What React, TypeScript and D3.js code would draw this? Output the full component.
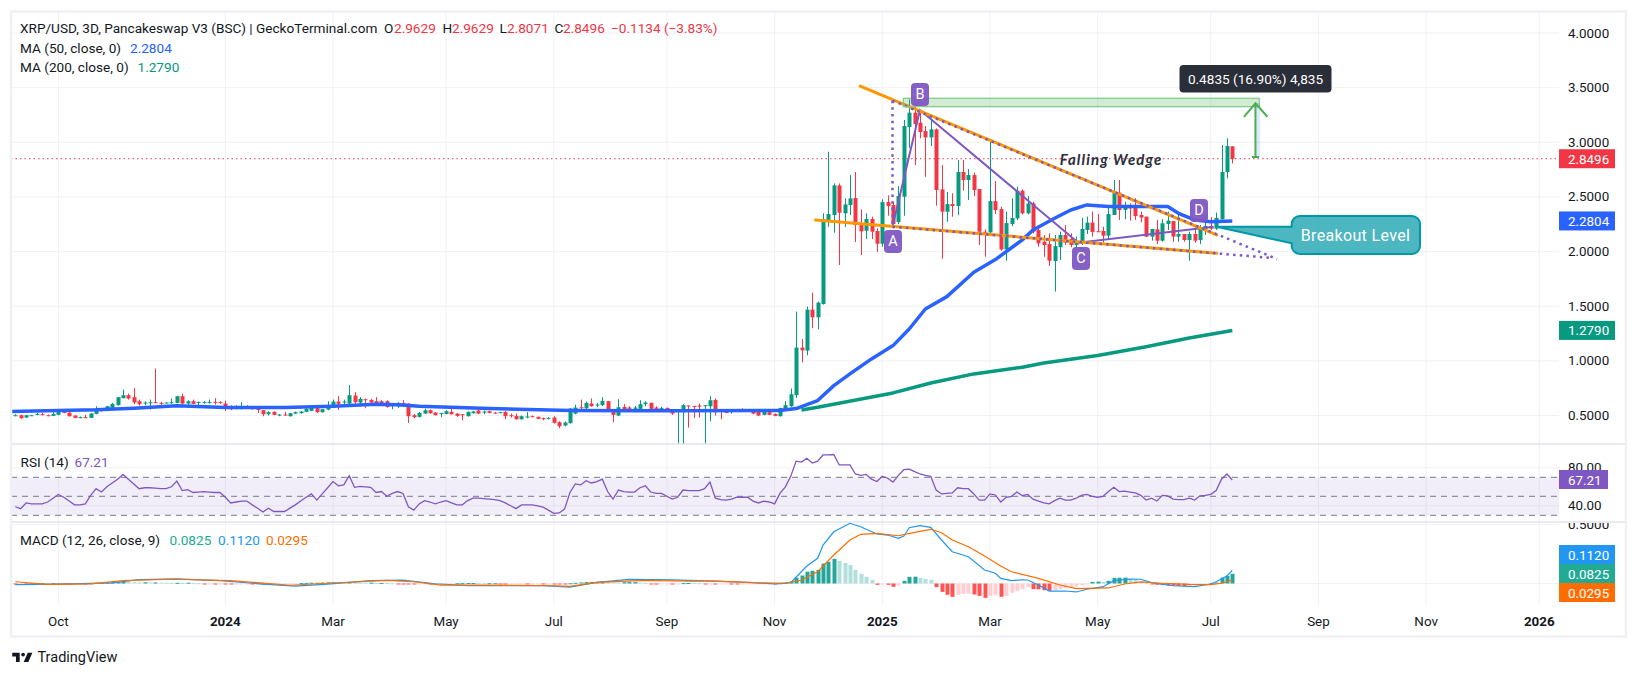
import React from "react";
import * as d3 from "d3";

// candle values, one per 3D bar
const opens = [
  .497,.503,.482,.5,.506,.512,.503,.497,.506,.537,
  .527,.5,.479,.485,.479,.515,.561,.543,.57,.595,
  .659,.686,.668,.631,.61,.616,.622,.616,.613,.616,
  .616,.677,.61,.631,.619,.619,.619,.625,.622,.61,
  .585,.573,.573,.579,.579,.561,.549,.512,.534,.503,
  .509,.494,.518,.521,.534,.543,.567,.531,.555,.573,
  .628,.622,.61,.683,.619,.649,.643,.631,.631,.631,
  .585,.585,.616,.61,.503,.488,.518,.549,.527,.518,
  .515,.534,.518,.512,.494,.521,.546,.527,.54,.527,
  .524,.534,.503,.497,.466,.485,.494,.488,.476,.473,
  .482,.439,.409,.43,.518,.576,.567,.61,.595,.595,
  .631,.558,.5,.579,.573,.561,.561,.604,.616,.573,
  .561,.57,.549,.537,.531,.592,.588,.592,.588,.585,
  .643,.546,.549,.534,.537,.558,.54,.549,.543,.506,
  .531,.515,.494,.549,.585,.686,1.122,1.094,1.469,1.399,
  1.521,2.288,2.334,2.606,2.35,2.426,2.49,2.25,2.191,2.298,
  2.188,2.072,2.453,2.426,2.27,2.502,3.139,3.271,3.179,3.103,
  3.045,3.118,2.569,2.365,2.435,2.417,2.728,2.655,2.7,2.572,
  2.182,2.176,2.462,2.389,2.02,2.252,2.304,2.557,2.35,2.441,
  2.197,2.09,2.069,1.914,2.04,2.152,2.116,2.06,2.076,2.198,
  2.265,2.186,2.189,2.146,2.335,2.54,2.381,2.417,2.402,2.335,
  2.32,2.137,2.204,2.1,2.253,2.28,2.137,2.161,2.106,2.161,
  2.106,2.204,2.235,2.21,2.295,2.728,2.9629,
];
const closes = [
  .503,.476,.503,.503,.515,.506,.497,.515,.543,.524,
  .494,.479,.485,.479,.518,.564,.54,.585,.607,.668,
  .686,.656,.619,.604,.619,.622,.616,.61,.619,.622,
  .677,.61,.631,.607,.625,.625,.625,.619,.616,.579,
  .558,.582,.582,.585,.558,.552,.512,.531,.506,.509,
  .503,.521,.531,.537,.561,.57,.531,.558,.588,.628,
  .607,.628,.686,.622,.653,.643,.619,.61,.613,.579,
  .595,.616,.607,.494,.485,.524,.549,.521,.503,.524,
  .54,.512,.497,.506,.534,.537,.518,.537,.524,.518,
  .531,.494,.497,.466,.494,.491,.488,.47,.47,.479,
  .433,.402,.436,.564,.573,.57,.616,.585,.601,.634,
  .549,.506,.576,.549,.561,.573,.604,.619,.561,.561,
  .57,.537,.518,.543,.595,.585,.582,.582,.595,.64,
  .531,.54,.524,.552,.549,.54,.552,.518,.5,.537,
  .506,.497,.57,.595,.695,1.122,1.097,1.469,1.399,1.533,
  2.293,2.343,2.606,2.356,2.432,2.487,2.243,2.185,2.298,2.182,
  2.072,2.453,2.417,2.252,2.508,3.149,3.271,3.167,3.094,3.045,
  3.118,2.563,2.365,2.435,2.417,2.728,2.655,2.7,2.563,2.182,
  2.176,2.462,2.38,2.02,2.261,2.307,2.557,2.35,2.441,2.182,
  2.075,2.06,1.917,2.05,2.152,2.082,2.06,2.09,2.207,2.265,
  2.18,2.18,2.146,2.344,2.54,2.381,2.417,2.396,2.326,2.311,
  2.137,2.207,2.1,2.259,2.283,2.137,2.161,2.106,2.161,2.1,
  2.207,2.235,2.21,2.308,2.728,2.966,2.8496,
];
const highs = [
  .512,.509,.506,.506,.524,.524,.509,.543,.549,.54,
  .531,.503,.491,.506,.524,.585,.564,.588,.616,.671,
  .738,.701,.75,.646,.631,.646,.93,.625,.622,.656,
  .68,.701,.64,.646,.628,.631,.646,.659,.631,.637,
  .595,.595,.622,.595,.585,.561,.549,.54,.537,.512,
  .534,.524,.537,.54,.582,.573,.57,.561,.631,.646,
  .677,.646,.778,.714,.668,.656,.653,.668,.64,.64,
  .61,.622,.64,.61,.515,.534,.564,.555,.531,.524,
  .549,.579,.521,.512,.537,.54,.555,.546,.546,.531,
  .534,.54,.518,.518,.5,.531,.5,.491,.482,.485,
  .494,.448,.445,.567,.598,.646,.628,.656,.616,.668,
  .634,.558,.649,.604,.585,.588,.64,.631,.619,.585,
  .579,.573,.555,.543,.604,.592,.588,.61,.595,.677,
  .656,.549,.552,.555,.552,.567,.555,.552,.546,.54,
  .534,.518,.57,.631,.747,1.451,1.201,1.497,1.625,1.543,
  2.351,2.914,2.624,2.624,2.487,2.7,2.728,2.386,2.35,2.319,
  2.212,2.478,2.514,2.456,2.6,3.204,3.393,3.362,3.295,3.149,
  3.219,3.127,2.792,2.545,2.533,2.838,2.838,2.755,2.722,2.572,
  2.203,3.005,2.645,2.41,2.365,2.487,2.593,2.569,2.508,2.456,
  2.243,2.151,2.167,2.152,2.183,2.244,2.167,2.137,2.31,2.32,
  2.366,2.344,2.228,2.405,2.655,2.655,2.457,2.442,2.488,2.366,
  2.32,2.207,2.29,2.296,2.366,2.28,2.35,2.161,2.183,2.244,
  2.244,2.335,2.314,2.357,2.975,3.036,2.9629,
];
const lows = [
  .494,.47,.479,.497,.503,.503,.494,.494,.503,.521,
  .491,.476,.476,.476,.476,.512,.537,.54,.567,.592,
  .656,.646,.604,.592,.595,.555,.613,.598,.61,.607,
  .613,.601,.598,.604,.588,.61,.61,.601,.61,.543,
  .549,.555,.555,.567,.555,.524,.494,.5,.503,.494,
  .5,.491,.515,.518,.531,.54,.524,.527,.549,.57,
  .552,.604,.604,.592,.604,.567,.598,.598,.607,.573,
  .558,.57,.595,.433,.476,.482,.515,.518,.5,.485,
  .512,.509,.488,.457,.491,.518,.512,.512,.521,.515,
  .521,.466,.482,.463,.463,.476,.485,.466,.457,.466,
  .427,.384,.402,.427,.512,.54,.561,.582,.576,.588,
  .54,.439,.494,.537,.543,.543,.558,.585,.558,.549,
  .549,.534,.506,.2,.2,.39,.476,.482,.2,.448,
  .5,.466,.521,.518,.534,.537,.537,.512,.494,.503,
  .503,.494,.491,.546,.579,.661,.987,1.051,1.298,1.289,
  1.515,2.227,2.173,1.877,2.227,2.334,2.087,1.968,2.115,2.115,
  1.999,2.045,2.328,2.212,2.252,2.328,2.95,2.792,3.036,2.685,
  2.966,2.42,1.935,2.273,2.319,2.334,2.557,2.472,2.508,2.06,
  1.953,2.167,2.343,2.008,1.917,2.234,2.288,2.34,2.34,2.167,
  2.045,1.953,1.868,1.634,1.924,2.06,2.04,2.04,2.06,2.161,
  2.137,2.18,2.082,2.106,2.335,2.29,2.296,2.283,2.29,2.268,
  2.131,2.1,2.07,2.09,2.198,2.09,2.09,2.09,1.917,2.082,
  2.07,2.152,2.198,2.198,2.295,2.67,2.8071,
];

// moving averages, read at the points where the line bends
const ma50Index = [-1,8,15,22,30,39,50,59,67,71,75,88,103,115,123,142,145,149,152,155,159,163,166,169,173,178,182,187,189,193,196,199,203,214,216,219,222,226];
const ma50Values = [.536,.546,.552,.567,.59,.573,.573,.585,.604,.598,.585,.564,.546,.543,.543,.546,.564,.637,.774,.881,1.018,1.14,1.292,1.475,1.588,1.811,1.927,2.107,2.198,2.305,2.381,2.427,2.412,2.412,2.35,2.29,2.274,2.2804];
const ma200Index = [146,149,163,170,178,187,191,201,210,218,226];
const ma200Values = [.551,.576,.707,.798,.881,.942,.98,1.05,1.13,1.21,1.279];

// RSI per bar
const rsiValues = [
  39,37,43,42,42,42,44,48,52,49,
  45,41,41,42,51,58,54.5,60,64,68,
  73,68,63,58,59,59,58.5,58,58,60,
  66,56,57,54,54.5,55,54.5,54,54,49,
  43,44,45,45,41,37.5,33.5,37.5,34,34,
  34,37.5,41,45,49,52.5,46,52.5,59,65.5,
  61,62,71.7,59.5,60.5,60,59.5,54,55,50,
  53,55,53,39,35.5,42,45.5,44,42,44,
  45.5,43,41,41,45.5,48,48,47.5,47,46.5,
  45.5,43,40,37,41,41,41,40,38.5,35.5,
  32,32.5,36.5,54,63,62,66.4,64,65.5,68,
  55,47,56.6,55,54.5,54.5,59,61,54.5,53,
  53,50,47,49,56.6,56,56,56,58,65,
  48,46.5,46,47,49,49,49,45,43,45,
  44,42,53,60,71,87,86,90,85,87,
  93.5,93.7,94,83,83,83,73.5,72,73,68,
  65.5,71,69,65,72,78,78.5,76,73.5,72,
  71,56.6,52.5,53,53.5,59,58,58,52.5,46,
  46,52.5,51.4,44,49,50,54.5,50.6,52,47,
  45,43,42,45.5,48,46,46,48,51,52,
  50,49,50,55,59.5,55,55.5,54.5,53.5,51,
  46,48,45,51,50.5,47,46.5,46.5,48,46,
  50.5,51,52,56,68,73.5,67.21,
];

// MACD and signal lines at their bends
const macdIndex = [0,8,18,23,30,38,46,52,58,66,72,78,84,98,103,108,114,122,130,137,141,144,147,149,150,152,155,157,158,160,162,164,165,166,168,170,172,174,177,180,182,183,185,187,188,190,192,195,197,199,202,204,207,209,211,215,219,222,223,225,226];
const macdValues = [-.01,-.006,.005,.033,.04,.025,-.005,-.022,-.005,.025,.028,-.002,-.018,-.018,-.03,.01,.035,.03,.02,.007,-.004,.007,.149,.214,.327,.44,.512,.483,.461,.421,.412,.384,.404,.474,.492,.478,.37,.27,.228,.115,.087,.044,.024,.032,.03,-.013,-.064,-.064,-.072,-.049,-.027,.024,.038,.036,.007,-.019,-.027,-.004,.015,.064,.112];
const signalIndex = [0,6,14,20,29,40,45,51,58,69,74,79,86,100,103,108,117,125,130,137,143,146,149,152,155,157,160,164,167,170,172,174,177,180,183,185,190,194,197,203,206,209,213,218,222,224,226];
const signalValues = [.015,-.007,-.004,.024,.036,.024,.007,-.015,.002,.027,.015,-.013,-.013,-.019,-.025,.01,.027,.02,.02,.007,.002,.03,.1,.242,.37,.418,.427,.406,.435,.461,.432,.37,.313,.234,.149,.1,.044,-.013,-.044,-.038,-.004,.013,.002,-.007,-.01,.002,.0295];

// MACD histogram per bar
const histValues = [
  -.003,-.002,-.003,.002,.002,.003,.002,.002,-.001,-.002,
  -.003,-.003,-.002,-.003,.002,.006,.006,.008,.01,.012,
  .014,.013,.011,.01,.01,.009,.009,.008,.007,.006,
  .006,.005,.007,.003,.002,-.002,-.002,-.003,-.003,-.004,
  -.006,-.006,-.004,-.004,-.006,-.006,-.008,-.008,-.006,-.005,
  -.004,-.003,-.002,.003,.005,.007,.007,.008,.01,.011,
  .009,.008,.01,.009,.008,.007,.007,.005,.005,.004,
  .002,-.002,-.004,-.005,-.006,-.005,-.004,-.005,-.004,-.003,
  -.002,-.002,.002,.003,.004,.004,.003,.002,.002,.002,
  -.001,-.002,-.002,-.002,-.002,-.003,-.002,-.002,-.003,-.002,
  -.003,-.004,-.006,.002,.006,.009,.012,.012,.014,.015,
  .012,.01,.008,.01,.012,.012,.008,.006,-.003,-.004,
  -.004,-.002,-.003,-.003,.003,.004,.003,.002,-.002,-.002,
  -.003,-.003,-.002,-.003,-.004,-.003,-.003,-.002,-.002,-.002,
  -.002,-.003,.002,.004,.017,.05,.068,.1,.108,.116,
  .17,.184,.21,.192,.175,.158,.116,.082,.057,.031,
  -.011,-.006,-.011,-.028,-.017,.023,.057,.058,.048,.04,
  .031,-.031,-.071,-.096,-.113,-.096,-.088,-.087,-.093,-.105,
  -.122,-.105,-.096,-.113,-.105,-.079,-.062,-.048,-.031,-.048,
  -.049,-.057,-.062,-.057,-.048,-.04,-.034,-.025,-.017,-.008,
  .014,.016,.013,.023,.048,.049,.05,.04,.031,.014,
  .008,-.006,-.011,-.014,-.017,-.02,-.021,-.022,-.02,-.017,
  -.014,-.011,.003,.008,.05,.065,.0825,
];

const timeLabels = ["Oct","2024","Mar","May","Jul","Sep","Nov","2025","Mar","May","Jul","Sep","Nov","2026"];
const timeIndex = [8,39,59,80,100,121,141,161,181,201,222,242,262,283];
const priceTicks = [4,3.5,3,2.5,2,1.5,1,.5];
const rsiTicks = [80,40];
const rsiLevels = [70,50,30];
const macdTicks = [.5];

const lastPrice = 2.8496;
const wedgeUpper: [number, number][] = [[156.9,3.515],[223.1,2.152]];
const wedgeLower: [number, number][] = [[148.6,2.289],[223.1,1.984]];
const dotUpper: [number, number][] = [[162.9,3.381],[234.3,1.932]];
const dotLower: [number, number][] = [[162.9,2.228],[233.6,1.941]];
const dotVertical: [number, number][] = [[162.9,3.381],[162.9,2.228]];
const abcd: [number, number][] = [[162.9,2.228],[168,3.296],[197.4,2.081],[222.5,2.228]];
const targetBox = { i0: 164.9, i1: 231, top: 3.403, bottom: 3.326 };
const measure = { i: 230.3, from: 2.866, to: 3.357 };

const GREEN = "#089981";
const RED = "#f23645";
const BLUE = "#2962ff";
const PURPLE = "#7e57c2";
const ORANGE = "#ff9800";
const TEXT = "#131722";
const GRID = "#f0f1f4";
const FONT = "Roboto, sans-serif";

const W = 1637;
const H = 676;
const left = 11;
const plotRight = 1559;
const mainBottom = 444;
const rsiBottom = 522;
const macdBottom = 605;

const x = d3.scaleLinear().domain([0, 226]).range([15.3, 1232.3]);
const y = d3.scaleLinear().domain([3, 2]).range([142.3, 251.6]);
const yRsi = d3.scaleLinear().domain([70, 30]).range([477.3, 515.3]);
const yMacd = d3.scaleLinear().domain([0, 0.5]).range([583.5, 524.7]);

const pricePath = d3.line<[number, number]>().x((d) => x(d[0])).y((d) => y(d[1]));
const zip = (a: number[], b: number[]) => a.map((v, i) => [v, b[i]] as [number, number]);

const macdLine = d3.line<[number, number]>().x((d) => x(d[0])).y((d) => yMacd(d[1]));
const rsiLine = d3.line<number>().x((_, i) => x(i)).y((d) => yRsi(d));

const histColor = (i: number) => {
  const v = histValues[i];
  const prev = i > 0 ? histValues[i - 1] : 0;
  if (v >= 0) return v >= prev ? "#26a69a" : "#b2dfdb";
  return v < prev ? "#ff5252" : "#ffcdd2";
};

const Legend = ({ tx, ty, fill = TEXT, children }: any) => (
  <text x={tx} y={ty} fontSize={13.6} fontFamily={FONT} fill={fill} dominantBaseline="central">
    {children}
  </text>
);

const AxisBox = ({ cy, fill, label, w = 56 }: any) => (
  <g>
    <rect x={plotRight} y={cy - 9.5} width={w} height={19} fill={fill} />
    <text x={plotRight + 9} y={cy + 0.5} fontSize={13.4} fontFamily={FONT} fill="#fff" dominantBaseline="central">
      {label}
    </text>
  </g>
);

const Badge = ({ cx, top, label }: any) => (
  <g>
    <rect x={cx - 9} y={top} width={18} height={23} rx={4} fill={PURPLE} fillOpacity={0.95} />
    <text x={cx} y={top + 11.5} textAnchor="middle" dominantBaseline="central" fontSize={14.5} fontFamily={FONT} fill="#fff">
      {label}
    </text>
  </g>
);

export default function App() {
  const tipX = x(223.1);
  const tipY = y(2.228);
  const ax = x(measure.i);
  const ayTop = y(measure.to);
  const ayBottom = y(measure.from);

  return (
    <svg width={W} height={H} viewBox={`0 0 ${W} ${H}`} style={{ position: "fixed", left: 0, top: 0, background: "#fff" }}>
      <defs>
        <clipPath id="mainClip"><rect x={left} y={12} width={plotRight - left} height={mainBottom - 12} /></clipPath>
        <clipPath id="lowerClip"><rect x={left} y={mainBottom} width={plotRight - left} height={macdBottom - mainBottom} /></clipPath>
        <clipPath id="macdAxisClip"><rect x={plotRight} y={rsiBottom + 1} width={70} height={40} /></clipPath>
      </defs>

      {/* grid */}
      {timeIndex.map((t) => (
        <line key={t} x1={x(t)} x2={x(t)} y1={12} y2={macdBottom} stroke={GRID} strokeWidth={1} />
      ))}
      {priceTicks.map((p) => (
        <line key={p} x1={left} x2={plotRight} y1={y(p)} y2={y(p)} stroke={GRID} />
      ))}
      {rsiTicks.map((r) => (
        <line key={r} x1={left} x2={plotRight} y1={yRsi(r)} y2={yRsi(r)} stroke={GRID} />
      ))}
      {[...macdTicks, 0].map((m) => (
        <line key={m} x1={left} x2={plotRight} y1={yMacd(m)} y2={yMacd(m)} stroke={GRID} />
      ))}

      {/* last price line */}
      <line x1={left} x2={plotRight} y1={y(lastPrice)} y2={y(lastPrice)} stroke={RED} strokeWidth={1} strokeDasharray="1.5 3" />

      {/* candles */}
      <g clipPath="url(#mainClip)">
        {closes.map((c, i) => {
          const up = c >= opens[i];
          const col = up ? GREEN : RED;
          const cx = Math.round(x(i));
          const top = y(Math.max(opens[i], c));
          const bot = y(Math.min(opens[i], c));
          return (
            <g key={i} fill={col}>
              <rect x={cx} y={y(highs[i])} width={1} height={y(lows[i]) - y(highs[i])} />
              <rect x={cx - 1.5} y={top} width={4} height={Math.max(1, bot - top)} />
            </g>
          );
        })}
        <path d={pricePath(zip(ma200Index, ma200Values))!} fill="none" stroke={GREEN} strokeWidth={3.5} strokeLinejoin="round" />
        <path d={pricePath(zip(ma50Index, ma50Values))!} fill="none" stroke={BLUE} strokeWidth={3.5} strokeLinejoin="round" />
      </g>

      {/* drawings */}
      <path d={pricePath(abcd)!} fill="none" stroke={PURPLE} strokeWidth={2} />
      <path d={pricePath(wedgeUpper)!} stroke={ORANGE} strokeWidth={3} strokeLinecap="round" />
      <path d={pricePath(wedgeLower)!} stroke={ORANGE} strokeWidth={3} strokeLinecap="round" />
      {[dotUpper, dotLower, dotVertical].map((d, i) => (
        <path key={i} d={pricePath(d)!} stroke={PURPLE} strokeWidth={2.5} strokeDasharray="2.5 4.2" fill="none" />
      ))}
      <rect
        x={x(targetBox.i0)}
        y={y(targetBox.top)}
        width={x(targetBox.i1) - x(targetBox.i0)}
        height={y(targetBox.bottom) - y(targetBox.top)}
        fill="#4caf50"
        fillOpacity={0.25}
        stroke="#81c784"
        strokeWidth={1.2}
      />
      <rect x={ax} y={ayTop} width={4.5} height={ayBottom - ayTop} fill={BLUE} fillOpacity={0.15} />
      <path
        d={`M${ax - 3.5},${ayBottom}H${ax + 3.5}M${ax},${ayBottom}V${ayTop}M${ax - 11.5},${ayTop + 13.5}L${ax},${ayTop}L${ax + 12},${ayTop + 13.5}`}
        fill="none"
        stroke="#4caf50"
        strokeWidth={2}
      />
      <rect x={1179.5} y={65} width={152} height={27.5} rx={4} fill="#2a2e39" />
      <text x={1255.5} y={79} textAnchor="middle" dominantBaseline="central" fontSize={13.6} fontFamily={FONT} fill="#fff">
        0.4835 (16.90%) 4,835
      </text>
      <text x={1111} y={165} textAnchor="middle" fontSize={15} fontFamily="Lato, sans-serif" fontStyle="italic" fontWeight={700} letterSpacing={1.1} fill="#2a2e39">
        Falling Wedge
      </text>
      <Badge cx={893} top={230} label="A" />
      <Badge cx={920} top={83} label="B" />
      <Badge cx={1081} top={247} label="C" />
      <Badge cx={1199} top={199} label="D" />

      {/* breakout callout */}
      <path
        d={`M${tipX},${tipY}L1291.7,${tipY}V224A8,8 0 0 1 1299.7,216H1412A8,8 0 0 1 1420,224V246A8,8 0 0 1 1412,254H1299.7A8,8 0 0 1 1291.7,246V243.3Z`}
        fill="#0097a7"
        fillOpacity={0.7}
        stroke="#0097a7"
        strokeWidth={2}
        strokeLinejoin="round"
      />
      <text x={1355.5} y={235} textAnchor="middle" dominantBaseline="central" fontSize={16} letterSpacing={0.35} fontFamily={FONT} fill="#fff">
        Breakout Level
      </text>

      {/* RSI */}
      <rect x={left} y={yRsi(70)} width={plotRight - left} height={yRsi(30) - yRsi(70)} fill={PURPLE} fillOpacity={0.1} />
      {rsiLevels.map((l) => (
        <line key={l} x1={left} x2={plotRight} y1={yRsi(l)} y2={yRsi(l)} stroke="#787b86" strokeDasharray="6 5" />
      ))}
      <path d={rsiLine(rsiValues)!} fill="none" stroke={PURPLE} strokeWidth={1.3} clipPath="url(#lowerClip)" />

      {/* MACD */}
      <g clipPath="url(#lowerClip)">
        {histValues.map((v, i) => {
          const y0 = yMacd(Math.max(v, 0));
          const y1 = yMacd(Math.min(v, 0));
          return <rect key={i} x={Math.round(x(i)) - 1.5} y={y0} width={4} height={Math.max(1, y1 - y0)} fill={histColor(i)} />;
        })}
        <path d={macdLine(zip(macdIndex, macdValues))!} fill="none" stroke="#2196f3" strokeWidth={1.2} />
        <path d={macdLine(zip(signalIndex, signalValues))!} fill="none" stroke="#ff6d00" strokeWidth={1.2} />
      </g>

      {/* pane separators and frame */}
      <line x1={left} x2={1626} y1={mainBottom} y2={mainBottom} stroke="#e0e3eb" strokeWidth={1.5} />
      <line x1={left} x2={1626} y1={rsiBottom} y2={rsiBottom} stroke="#e0e3eb" strokeWidth={1.5} />
      <rect x={11} y={11.5} width={1615} height={625} fill="none" stroke="#f0f1f6" strokeWidth={2.5} />

      {/* price axis */}
      {priceTicks.map((p) => (
        <text key={p} x={1568} y={y(p)} fontSize={13.4} fontFamily={FONT} fill={TEXT} dominantBaseline="central">
          {p.toFixed(4)}
        </text>
      ))}
      {rsiTicks.map((r) => (
        <text key={r} x={1568} y={yRsi(r)} fontSize={13.4} fontFamily={FONT} fill={TEXT} dominantBaseline="central">
          {r.toFixed(2)}
        </text>
      ))}
      <g clipPath="url(#macdAxisClip)">
        {macdTicks.map((m) => (
          <text key={m} x={1568} y={yMacd(m)} fontSize={13.4} fontFamily={FONT} fill={TEXT} dominantBaseline="central">
            {m.toFixed(4)}
          </text>
        ))}
      </g>
      <AxisBox cy={y(lastPrice)} fill={RED} label="2.8496" />
      <AxisBox cy={y(2.2804)} fill={BLUE} label="2.2804" />
      <AxisBox cy={y(1.279)} fill={GREEN} label="1.2790" />
      <AxisBox cy={479.5} fill={PURPLE} label="67.21" w={49} />
      <AxisBox cy={554.5} fill="#2196f3" label="0.1120" />
      <AxisBox cy={573.5} fill="#22ab94" label="0.0825" />
      <AxisBox cy={592.5} fill="#ff6d00" label="0.0295" />

      {/* time axis */}
      {timeLabels.map((t, i) => (
        <text
          key={i}
          x={x(timeIndex[i])}
          y={621}
          textAnchor="middle"
          dominantBaseline="central"
          fontSize={13.4}
          fontFamily={FONT}
          fontWeight={/^\d+$/.test(t) ? 700 : 400}
          fill={TEXT}
        >
          {t}
        </text>
      ))}

      {/* legends */}
      <Legend tx={20} ty={28}>XRP/USD, 3D, Pancakeswap V3 (BSC) | GeckoTerminal.com</Legend>
      <Legend tx={384} ty={28}>O</Legend>
      <Legend tx={394} ty={28} fill={RED}>2.9629</Legend>
      <Legend tx={442.5} ty={28}>H</Legend>
      <Legend tx={452} ty={28} fill={RED}>2.9629</Legend>
      <Legend tx={499.5} ty={28}>L</Legend>
      <Legend tx={507} ty={28} fill={RED}>2.8071</Legend>
      <Legend tx={554.5} ty={28}>C</Legend>
      <Legend tx={563} ty={28} fill={RED}>2.8496</Legend>
      <Legend tx={611} ty={28} fill={RED}>−0.1134 (−3.83%)</Legend>
      <Legend tx={20} ty={48}>MA (50, close, 0)</Legend>
      <Legend tx={130} ty={48} fill={BLUE}>2.2804</Legend>
      <Legend tx={20} ty={66.5}>MA (200, close, 0)</Legend>
      <Legend tx={137.5} ty={66.5} fill={GREEN}>1.2790</Legend>
      <Legend tx={20.5} ty={462}>RSI (14)</Legend>
      <Legend tx={74.5} ty={462} fill={PURPLE}>67.21</Legend>
      <Legend tx={20} ty={540}>MACD (12, 26, close, 9)</Legend>
      <Legend tx={169.5} ty={540} fill="#22ab94">0.0825</Legend>
      <Legend tx={218} ty={540} fill="#2196f3">0.1120</Legend>
      <Legend tx={266} ty={540} fill="#ff6d00">0.0295</Legend>

      {/* logo */}
      <g transform="translate(11,649) scale(0.62)" fill={TEXT}>
        <path d="M14 6H2v6h6v9h6V6zm14 15h-7.5L27 6h7.5L28 21z" />
        <circle cx="19.5" cy="9" r="3" />
      </g>
      <text x={37.5} y={657} fontSize={14.5} fontFamily={FONT} fontWeight={400} fill={TEXT} dominantBaseline="central">
        TradingView
      </text>
    </svg>
  );
}
